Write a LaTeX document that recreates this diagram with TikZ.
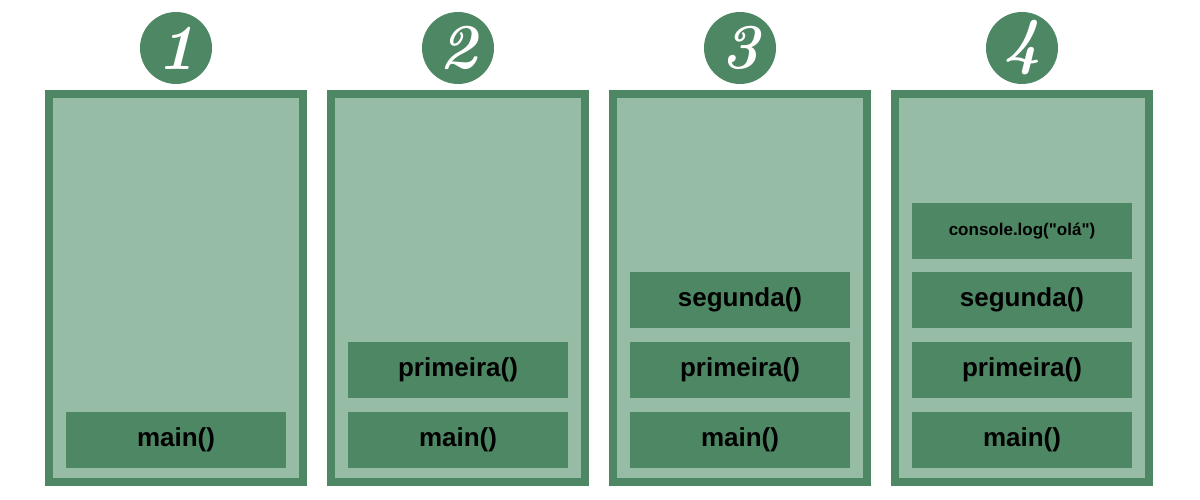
\documentclass[tikz,border=0pt]{standalone}
\usepackage{fontspec}
\setmainfont{Liberation Sans}
\newfontfamily\codefont{Liberation Sans}
\newfontfamily\badgefont[Numbers=Lining]{Latin Modern Roman}
\definecolor{dkgreen}{HTML}{4E8763}
\definecolor{ltgreen}{HTML}{97BCA5}
\tikzset{
  panel/.style={fill=ltgreen, draw=dkgreen, line width=8pt},
  frame/.style={fill=dkgreen, draw=none, minimum width=220pt, minimum height=56pt, inner sep=0pt,
    font=\fontsize{26}{28}\selectfont\codefont\bfseries, text=black},
  smallframe/.style={frame, font=\fontsize{17}{19}\selectfont\codefont\bfseries},
  badge/.style={circle, fill=dkgreen, minimum size=72pt, inner sep=0pt, text=white,
    font=\fontsize{64}{64}\selectfont\badgefont\bfseries\itshape}
}
\begin{document}
\begin{tikzpicture}[x=1pt,y=-1pt]
\useasboundingbox (0,0) rectangle (1200,500);
% panels
\foreach \i in {0,1,2,3}{
  \pgfmathsetmacro{\xa}{45+282*\i+4}
  \pgfmathsetmacro{\xb}{45+282*\i+262-4}
  \draw[panel] (\xa,94) rectangle (\xb,482);
}
% badges
\node[badge] (b1) at (176,48) {1};
\node[badge] (b2) at (458,48) {2};
\node[badge] (b3) at (740,48) {3};
\node[badge] (b4) at (1022,48) {4};
% panel 1
\node[frame] (m1) at (176,440) {main()};
% panel 2
\node[frame] (m2) at (458,440) {main()};
\node[frame] (p2) at (458,370) {primeira()};
% panel 3
\node[frame] (m3) at (740,440) {main()};
\node[frame] (p3) at (740,370) {primeira()};
\node[frame] (s3) at (740,300) {segunda()};
% panel 4
\node[frame] (m4) at (1022,440) {main()};
\node[frame] (p4) at (1022,370) {primeira()};
\node[frame] (s4) at (1022,300) {segunda()};
\node[smallframe] (c4) at (1022,231) {console.log("olá")};
\end{tikzpicture}
\end{document}
